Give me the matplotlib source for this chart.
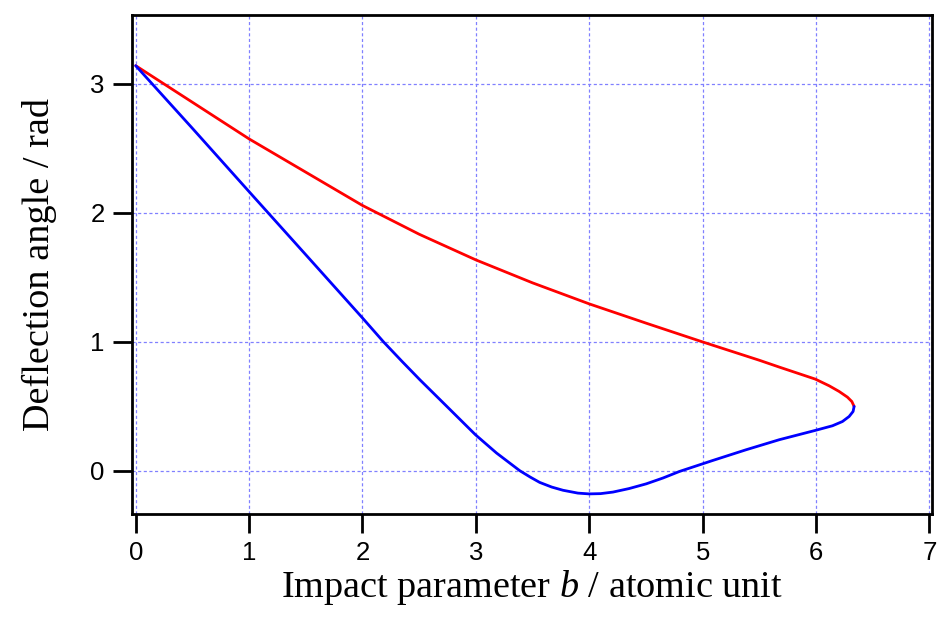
import numpy as np
import matplotlib
matplotlib.use('Agg')
import matplotlib.pyplot as plt

# values
b_red = [0.0, 0.5, 1.0, 1.5, 2.0, 2.5, 3.0, 3.5, 4.0, 4.5, 5.0, 5.5,
         5.676, 5.993, 6.116, 6.204, 6.277, 6.316, 6.336]
theta_red = [3.1416, 2.858, 2.574, 2.316, 2.058, 1.835, 1.636, 1.458, 1.295,
             1.146, 1.0, 0.858, 0.805, 0.712, 0.660, 0.616, 0.572, 0.538, 0.500]

b_blue = [0.0, 0.5, 1.0, 1.5, 2.0, 2.186, 2.35, 2.507, 2.742, 2.997, 3.182,
          3.387, 3.48, 3.563, 3.669, 3.769, 3.9, 3.998, 4.1, 4.209, 4.35,
          4.503, 4.65, 4.796, 5.089, 5.383, 5.676, 5.993, 6.145, 6.233,
          6.292, 6.327, 6.336]
theta_blue = [3.1416, 2.656, 2.165, 1.676, 1.186, 1.0, 0.848, 0.706, 0.502,
              0.280, 0.139, 0.002, -0.048, -0.089, -0.125, -0.150, -0.172,
              -0.178, -0.176, -0.164, -0.137, -0.100, -0.055, -0.004, 0.081,
              0.164, 0.242, 0.314, 0.350, 0.383, 0.422, 0.461, 0.500]

x_ticks = [0, 1, 2, 3, 4, 5, 6, 7]
y_ticks = [0, 1, 2, 3]

plt.rc('font', family='Liberation Sans')
plt.rc('xtick', labelsize=18.5)
plt.rc('ytick', labelsize=18.5)
plt.rc('mathtext', fontset='custom', it='Liberation Serif:italic',
       rm='Liberation Serif')

fig = plt.figure(figsize=(9.41, 6.22), dpi=100)
ax = fig.add_axes([0.140, 0.1732, 0.8508, 0.8032])

ax.plot(b_red, theta_red, color='#ff0000', linewidth=2.0,
        solid_joinstyle='round', solid_capstyle='round')
ax.plot(b_blue, theta_blue, color='#0000ff', linewidth=2.0,
        solid_joinstyle='round', solid_capstyle='round')

ax.set_xlim(-0.035, 7.026)
ax.set_ylim(-0.336, 3.537)
ax.set_xticks(x_ticks)
ax.set_yticks(y_ticks)

ax.grid(True, color='#8080ff', linestyle=(0, (2.5, 2)), linewidth=0.9)
ax.set_axisbelow(True)

for s in ax.spines.values():
    s.set_linewidth(2.0)
ax.tick_params(direction='out', length=13.5, width=2.0, pad=6,
               top=False, right=False)

serif = {'family': 'Liberation Serif', 'size': 27.5}
ax.set_xlabel('Impact parameter $b$ / atomic unit', fontdict=serif, labelpad=2)
ax.set_ylabel('Deflection angle / rad', fontdict=serif, labelpad=24)

fig.savefig('out.png', dpi=100)
